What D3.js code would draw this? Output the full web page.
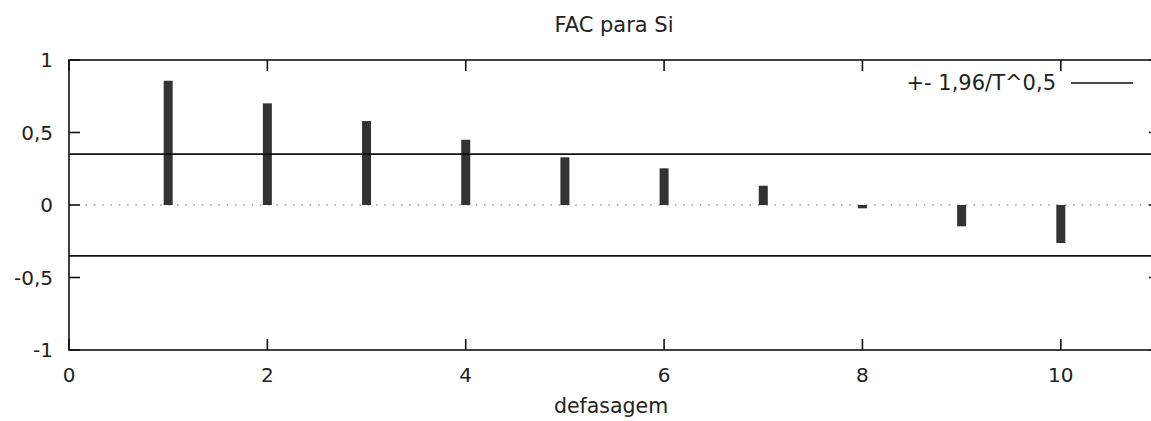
<!DOCTYPE html>
<html>
<head>
<meta charset="utf-8">
<script src="https://cdn.jsdelivr.net/npm/d3@7"></script>
<style>
  body { margin: 0; background: #fff; }
  text { font-family: "DejaVu Sans", Verdana, sans-serif; fill: #222; }
</style>
</head>
<body>
<div id="chart"></div>
<script>
const lags = [1, 2, 3, 4, 5, 6, 7, 8, 9, 10];
const acf = [0.857, 0.701, 0.579, 0.450, 0.329, 0.253, 0.133, -0.023, -0.147, -0.262];
const bound = 0.351;
const xTicks = [0, 2, 4, 6, 8, 10];
const yTicks = [-1, -0.5, 0, 0.5, 1];
const yTickLabels = ['-1', '-0,5', '0', '0,5', '1'];

const W = 1151, H = 421;
const margin = { top: 60, left: 69, bottom: 71 };
const plotH = H - margin.top - margin.bottom;

const svg = d3.select('#chart').append('svg')
  .attr('width', W).attr('height', H);

const x = d3.scaleLinear().domain([0, 11]).range([margin.left, 1160]);
const y = d3.scaleLinear().domain([-1, 1]).range([margin.top + plotH, margin.top]);

// zero line, dotted
svg.append('line')
  .attr('x1', x(0)).attr('x2', x(11))
  .attr('y1', y(0)).attr('y2', y(0))
  .attr('stroke', '#999').attr('stroke-width', 1.5)
  .attr('stroke-dasharray', '1.5,6.8');

// bars
const barW = 9;
svg.selectAll('rect.bar')
  .data(lags)
  .enter()
  .append('rect')
  .attr('class', 'bar')
  .attr('x', (d) => x(d) - barW / 2)
  .attr('y', (d, i) => y(Math.max(0, acf[i])))
  .attr('width', barW)
  .attr('height', (d, i) => Math.abs(y(acf[i]) - y(0)))
  .attr('fill', '#333');

// confidence bands
[bound, -bound].forEach((b) => {
  svg.append('line')
    .attr('x1', x(0)).attr('x2', x(11))
    .attr('y1', y(b)).attr('y2', y(b))
    .attr('stroke', '#111').attr('stroke-width', 1.6);
});

// frame
svg.append('rect')
  .attr('x', x(0)).attr('y', y(1))
  .attr('width', x(11) - x(0)).attr('height', y(-1) - y(1))
  .attr('fill', 'none').attr('stroke', '#111').attr('stroke-width', 1.6);

const tickLen = 11;
// y ticks (left and right, inward)
yTicks.forEach((t, i) => {
  svg.append('line')
    .attr('x1', x(0)).attr('x2', x(0) + tickLen)
    .attr('y1', y(t)).attr('y2', y(t))
    .attr('stroke', '#111').attr('stroke-width', 1.6);
  svg.append('line')
    .attr('x1', x(11)).attr('x2', x(11) - tickLen)
    .attr('y1', y(t)).attr('y2', y(t))
    .attr('stroke', '#111').attr('stroke-width', 1.6);
  svg.append('text')
    .attr('x', x(0) - 16).attr('y', y(t) + 7)
    .attr('text-anchor', 'end')
    .style('font-size', '20px')
    .text(yTickLabels[i]);
});

// x ticks (bottom and top, inward)
xTicks.forEach((t) => {
  svg.append('line')
    .attr('x1', x(t)).attr('x2', x(t))
    .attr('y1', y(-1)).attr('y2', y(-1) - tickLen)
    .attr('stroke', '#111').attr('stroke-width', 1.6);
  svg.append('line')
    .attr('x1', x(t)).attr('x2', x(t))
    .attr('y1', y(1)).attr('y2', y(1) + tickLen)
    .attr('stroke', '#111').attr('stroke-width', 1.6);
  svg.append('text')
    .attr('x', x(t)).attr('y', y(-1) + 32)
    .attr('text-anchor', 'middle')
    .style('font-size', '20px')
    .text(t);
});

// title and axis label
svg.append('text')
  .attr('x', 614).attr('y', 32)
  .attr('text-anchor', 'middle')
  .style('font-size', '21px')
  .text('FAC para Si');

svg.append('text')
  .attr('x', 611).attr('y', 413)
  .attr('text-anchor', 'middle')
  .style('font-size', '20.5px')
  .text('defasagem');

// legend
const legend = svg.append('g').attr('transform', 'translate(1056, 83)');
legend.append('text')
  .attr('x', 0).attr('y', 7)
  .attr('text-anchor', 'end')
  .style('font-size', '21px')
  .text('+- 1,96/T^0,5');
legend.append('line')
  .attr('x1', 15).attr('x2', 77)
  .attr('y1', 0).attr('y2', 0)
  .attr('stroke', '#111').attr('stroke-width', 1.6);
</script>
</body>
</html>
